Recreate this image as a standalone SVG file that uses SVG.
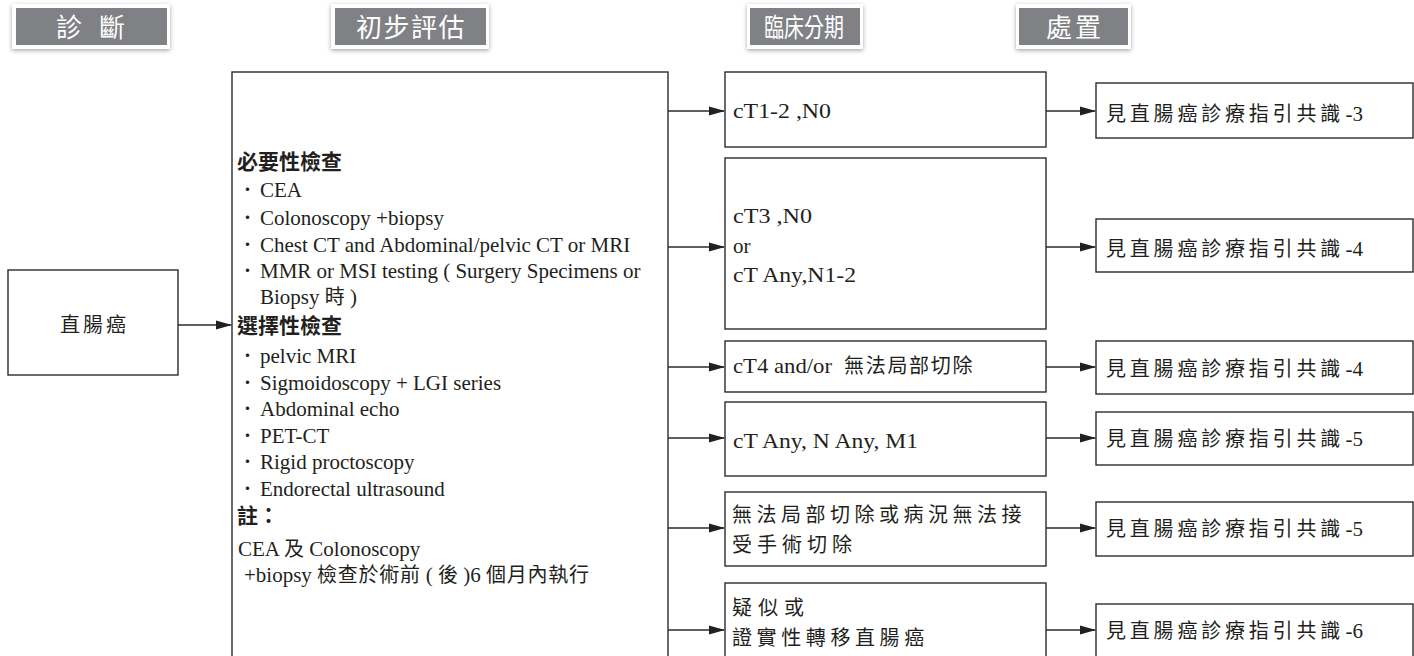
<svg xmlns="http://www.w3.org/2000/svg" width="1414" height="656" viewBox="0 0 1414 656">
<defs>
<style>
.box{fill:#fff;stroke:#2b2b2b;stroke-width:1.4}
.ho{fill:#fff}
.hi{fill:#808185}
.ht{font-family:"Noto Sans CJK TC","Noto Sans CJK SC",sans-serif;font-size:26px;fill:#fff}
.t{font-family:"Liberation Serif","Noto Sans CJK TC",serif;font-size:21px;fill:#231f20}
.c{font-family:"Noto Sans CJK TC","Noto Sans CJK SC",sans-serif;font-size:20px}
.dot{font-family:"Noto Sans CJK TC","Noto Sans CJK SC",sans-serif;font-size:16px;fill:#231f20}
.b{font-family:"Noto Sans CJK TC","Noto Sans CJK SC",sans-serif;font-size:21px;font-weight:bold;fill:#231f20}
.ln{stroke:#2b2b2b;stroke-width:1.4;fill:none;marker-end:url(#ah)}
</style>
<marker id="ah" markerUnits="userSpaceOnUse" markerWidth="17" markerHeight="10" refX="15" refY="5" orient="auto"><path d="M0,0.5 L16,5 L0,9.5 z" fill="#231f20"/></marker>
<filter id="sh" x="-10%" y="-30%" width="120%" height="170%"><feDropShadow dx="0" dy="1.5" stdDeviation="2" flood-color="#000" flood-opacity="0.35"/></filter>
</defs>
<rect width="1414" height="656" fill="#fff"/>

<g id="hdr-diagnosis">
<rect class="ho" x="12" y="4" width="158" height="45" filter="url(#sh)"/>
<rect class="hi" x="16" y="8" width="151" height="37"/>
<text class="ht" y="37"><tspan x="56">診 </tspan><tspan x="99">斷</tspan></text>
</g>
<g id="hdr-initial">
<rect class="ho" x="331" y="4" width="158" height="45" filter="url(#sh)"/>
<rect class="hi" x="335" y="8" width="151" height="37"/>
<text class="ht" x="356" y="37" letter-spacing="1.5">初步評估</text>
</g>
<g id="hdr-stage">
<rect class="ho" x="747" y="4" width="116" height="45" filter="url(#sh)"/>
<rect class="hi" x="750" y="8" width="110" height="37"/>
<text class="ht" x="764" y="37" textLength="80" lengthAdjust="spacingAndGlyphs">臨床分期</text>
</g>
<g id="hdr-treat">
<rect class="ho" x="1016" y="4" width="115" height="45" filter="url(#sh)"/>
<rect class="hi" x="1019" y="8" width="109" height="37"/>
<text class="ht" y="37"><tspan x="1046">處 </tspan><tspan x="1075">置</tspan></text>
</g>

<g id="connectors">
<line class="ln" x1="178" y1="325" x2="231" y2="325"/>
<line class="ln" x1="668" y1="111" x2="724" y2="111"/>
<line class="ln" x1="668" y1="247" x2="724" y2="247"/>
<line class="ln" x1="668" y1="367" x2="724" y2="367"/>
<line class="ln" x1="668" y1="438" x2="724" y2="438"/>
<line class="ln" x1="668" y1="528" x2="724" y2="528"/>
<line class="ln" x1="668" y1="630" x2="724" y2="630"/>
<line class="ln" x1="1046" y1="111" x2="1095" y2="111"/>
<line class="ln" x1="1046" y1="247" x2="1095" y2="247"/>
<line class="ln" x1="1046" y1="367" x2="1095" y2="367"/>
<line class="ln" x1="1046" y1="438" x2="1095" y2="438"/>
<line class="ln" x1="1046" y1="528" x2="1095" y2="528"/>
<line class="ln" x1="1046" y1="630" x2="1095" y2="630"/>
</g>

<g id="node-rectal">
<rect class="box" x="8" y="270" width="170" height="105"/>
<text class="t" x="60" y="332"><tspan class="c" letter-spacing="3">直腸癌</tspan></text>
</g>

<g id="node-workup">
<rect class="box" x="232" y="72" width="436" height="600"/>
<text class="b" x="237" y="168.5">必要性檢查</text>
<text class="dot" x="239.5" y="195">・</text><text class="t" x="260" y="197">CEA</text>
<text class="dot" x="239.5" y="222.5">・</text><text class="t" x="260" y="224.5">Colonoscopy +biopsy</text>
<text class="dot" x="239.5" y="250">・</text><text class="t" x="260" y="252">Chest CT and Abdominal/pelvic CT or MRI</text>
<text class="dot" x="239.5" y="276">・</text><text class="t" x="260" y="278">MMR or MSI testing ( Surgery Specimens or</text>
<text class="t" x="260" y="303.5">Biopsy <tspan class="c">時</tspan> )</text>
<text class="b" x="237" y="333">選擇性檢查</text>
<text class="dot" x="239.5" y="361">・</text><text class="t" x="260" y="363">pelvic MRI</text>
<text class="dot" x="239.5" y="387.5">・</text><text class="t" x="260" y="389.5">Sigmoidoscopy + LGI series</text>
<text class="dot" x="239.5" y="414">・</text><text class="t" x="260" y="416">Abdominal echo</text>
<text class="dot" x="239.5" y="440.5">・</text><text class="t" x="260" y="442.5">PET-CT</text>
<text class="dot" x="239.5" y="467">・</text><text class="t" x="260" y="469">Rigid proctoscopy</text>
<text class="dot" x="239.5" y="494">・</text><text class="t" x="260" y="496">Endorectal ultrasound</text>
<text class="b" x="237" y="523">註：</text>
<text class="t" x="238" y="556">CEA <tspan class="c">及</tspan> Colonoscopy</text>
<text class="t" x="244" y="582">+biopsy <tspan class="c" letter-spacing="0.7">檢查於術前</tspan> ( <tspan class="c">後</tspan> )6 <tspan class="c" letter-spacing="0.7">個月內執行</tspan></text>
</g>

<g id="stage-1">
<rect class="box" x="725" y="72" width="321" height="75"/>
<text class="t" x="733" y="118" textLength="98" lengthAdjust="spacingAndGlyphs">cT1-2 ,N0</text>
</g>
<g id="stage-2">
<rect class="box" x="725" y="158" width="321" height="171"/>
<text class="t" x="733" y="223" textLength="79" lengthAdjust="spacingAndGlyphs">cT3 ,N0</text>
<text class="t" x="733" y="253">or</text>
<text class="t" x="733" y="282" textLength="123" lengthAdjust="spacingAndGlyphs">cT Any,N1-2</text>
</g>
<g id="stage-3">
<rect class="box" x="725" y="341" width="321" height="51"/>
<text class="t" x="733" y="373" textLength="99" lengthAdjust="spacingAndGlyphs">cT4 and/or</text>
<text class="t" x="844" y="373"><tspan class="c" letter-spacing="1.7">無法局部切除</tspan></text>
</g>
<g id="stage-4">
<rect class="box" x="725" y="402" width="321" height="74"/>
<text class="t" x="733" y="448" textLength="185" lengthAdjust="spacingAndGlyphs">cT Any, N Any, M1</text>
</g>
<g id="stage-5">
<rect class="box" x="725" y="492" width="321" height="74"/>
<text class="t" x="732" y="522"><tspan class="c" letter-spacing="4.5">無法局部切除或病況無法接</tspan></text>
<text class="t" x="732" y="552"><tspan class="c" letter-spacing="5">受手術切除</tspan></text>
</g>
<g id="stage-6">
<rect class="box" x="725" y="583" width="321" height="90"/>
<text class="t" x="732" y="615"><tspan class="c" letter-spacing="6">疑似或</tspan></text>
<text class="t" x="732" y="645"><tspan class="c" letter-spacing="4.6">證實性轉移直腸癌</tspan></text>
</g>

<g id="treat-1">
<rect class="box" x="1096" y="83" width="317" height="55"/>
<text class="t" x="1106" y="121"><tspan class="c" letter-spacing="3.8">見直腸癌診療指引共</tspan><tspan class="c">識</tspan> -3</text>
</g>
<g id="treat-2">
<rect class="box" x="1096" y="219" width="317" height="53"/>
<text class="t" x="1106" y="256"><tspan class="c" letter-spacing="3.8">見直腸癌診療指引共</tspan><tspan class="c">識</tspan> -4</text>
</g>
<g id="treat-3">
<rect class="box" x="1096" y="341" width="317" height="53"/>
<text class="t" x="1106" y="376"><tspan class="c" letter-spacing="3.8">見直腸癌診療指引共</tspan><tspan class="c">識</tspan> -4</text>
</g>
<g id="treat-4">
<rect class="box" x="1096" y="412" width="317" height="53"/>
<text class="t" x="1106" y="446"><tspan class="c" letter-spacing="3.8">見直腸癌診療指引共</tspan><tspan class="c">識</tspan> -5</text>
</g>
<g id="treat-5">
<rect class="box" x="1096" y="502" width="317" height="54"/>
<text class="t" x="1106" y="536"><tspan class="c" letter-spacing="3.8">見直腸癌診療指引共</tspan><tspan class="c">識</tspan> -5</text>
</g>
<g id="treat-6">
<rect class="box" x="1096" y="604" width="317" height="70"/>
<text class="t" x="1106" y="638"><tspan class="c" letter-spacing="3.8">見直腸癌診療指引共</tspan><tspan class="c">識</tspan> -6</text>
</g>
</svg>
